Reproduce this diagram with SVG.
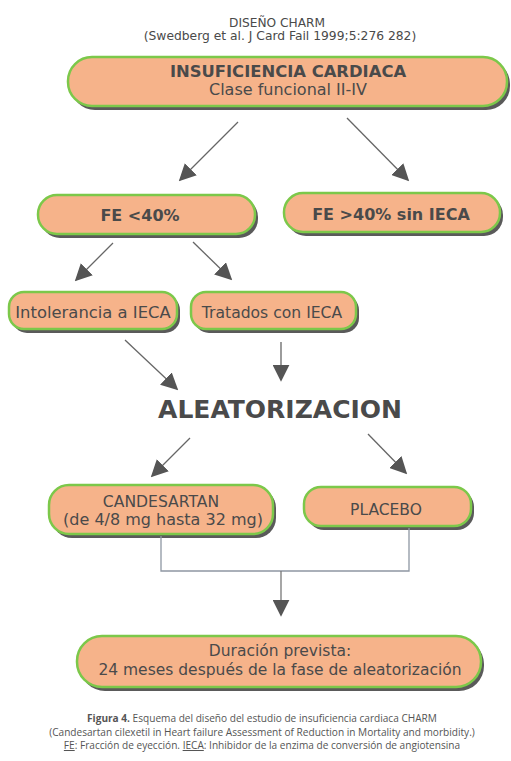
<svg xmlns="http://www.w3.org/2000/svg" width="511" height="761" viewBox="0 0 511 761">
<defs>
<marker id="ahb" viewBox="0 0 10 10" refX="9" refY="5" markerWidth="17" markerHeight="17" markerUnits="userSpaceOnUse" orient="auto">
<path d="M0,0 L10,5 L0,10 z" fill="#555"/>
</marker>
</defs>
<style>
.sh{fill:#5a5a5a}
.bx{fill:#f6b38a;stroke:#7cc84a;stroke-width:2.5}
.t{font-family:"DejaVu Sans",Verdana,sans-serif;fill:#4a4a4a;text-anchor:middle}
.b{font-weight:bold}
.ar{stroke:#666;stroke-width:1.3;fill:none;marker-end:url(#ahb)}
.ln{stroke:#8e97a3;stroke-width:1.3;fill:none}
.cap{font-family:"Open Sans","Liberation Sans",sans-serif;font-size:10.1px;fill:#555;text-anchor:middle}
</style>
<rect width="511" height="761" fill="#fff"/>
<g id="title">
<text class="t" x="277" y="27" font-size="12.2" fill="#555">DISEÑO CHARM</text>
<text class="t" x="280" y="40" font-size="12.3" fill="#555">(Swedberg et al. J Card Fail 1999;5:276 282)</text>
</g>
<g id="insuficiencia">
<rect class="sh" x="71" y="60" width="439" height="50" rx="24"/>
<rect class="bx" x="68" y="57" width="439" height="49" rx="24"/>
<text class="t b" x="288" y="77" font-size="16.4">INSUFICIENCIA CARDIACA</text>
<text class="t" x="288" y="95" font-size="16">Clase funcional II-IV</text>
</g>
<g id="fe40">
<rect class="sh" x="41" y="198" width="217" height="40" rx="19"/>
<rect class="bx" x="38" y="195" width="217" height="39" rx="19"/>
<text class="t b" x="140" y="221" font-size="16">FE &lt;40%</text>
</g>
<g id="fe40sin">
<rect class="sh" x="287" y="196" width="216" height="40" rx="19"/>
<rect class="bx" x="284" y="193" width="216" height="39" rx="19"/>
<text class="t b" x="391" y="220" font-size="16">FE &gt;40% sin IECA</text>
</g>
<g id="intolerancia">
<rect class="sh" x="12" y="295" width="168" height="38" rx="15"/>
<rect class="bx" x="9" y="292" width="168" height="37" rx="15"/>
<text class="t" x="93" y="318" font-size="16.4">Intolerancia a IECA</text>
</g>
<g id="tratados">
<rect class="sh" x="194" y="295" width="165" height="38" rx="15"/>
<rect class="bx" x="191" y="292" width="165" height="37" rx="15"/>
<text class="t" x="272" y="318" font-size="15.6">Tratados con IECA</text>
</g>
<g id="aleatorizacion">
<text class="t b" x="280" y="418" font-size="25">ALEATORIZACION</text>
</g>
<g id="candesartan">
<rect class="sh" x="52" y="488" width="224" height="50" rx="20"/>
<rect class="bx" x="49" y="485" width="224" height="49" rx="20"/>
<text class="t" x="161" y="507" font-size="15.6">CANDESARTAN</text>
<text class="t" x="163" y="525" font-size="16">(de 4/8 mg hasta 32 mg)</text>
</g>
<g id="placebo">
<rect class="sh" x="307" y="490" width="167" height="40" rx="17"/>
<rect class="bx" x="304" y="487" width="167" height="39" rx="17"/>
<text class="t" x="386" y="515" font-size="15.5">PLACEBO</text>
</g>
<g id="duracion">
<rect class="sh" x="80" y="639" width="404" height="52" rx="25"/>
<rect class="bx" x="77" y="636" width="404" height="51" rx="25"/>
<text class="t" x="280" y="656" font-size="15.5">Duración prevista:</text>
<text class="t" x="280" y="675" font-size="15.5">24 meses después de la fase de aleatorización</text>
</g>
<g id="connectors">
<line class="ar" x1="238" y1="122" x2="180" y2="180"/>
<line class="ar" x1="347" y1="118" x2="408" y2="180"/>
<line class="ar" x1="113" y1="243" x2="76" y2="280"/>
<line class="ar" x1="193" y1="242" x2="231" y2="279"/>
<line class="ar" x1="125" y1="340" x2="177" y2="389"/>
<line class="ar" x1="281" y1="342" x2="281" y2="380"/>
<line class="ar" x1="190" y1="438" x2="152" y2="476"/>
<line class="ar" x1="368" y1="434" x2="406" y2="473"/>
<polyline class="ln" points="161,536 161,571 409,571 409,528"/>
<line class="ar" x1="281" y1="571" x2="281" y2="615" style="stroke:#777"/>
</g>
<g id="caption">
<text class="cap" x="262" y="722"><tspan font-weight="bold">Figura 4.</tspan> Esquema del diseño del estudio de insuficiencia cardiaca CHARM</text>
<text class="cap" x="262" y="736">(Candesartan cilexetil in Heart failure Assessment of Reduction in Mortality and morbidity.)</text>
<text class="cap" x="262" y="749"><tspan text-decoration="underline">FE</tspan>: Fracción de eyección. <tspan text-decoration="underline">IECA</tspan>: Inhibidor de la enzima de conversión de angiotensina</text>
</g>
</svg>
